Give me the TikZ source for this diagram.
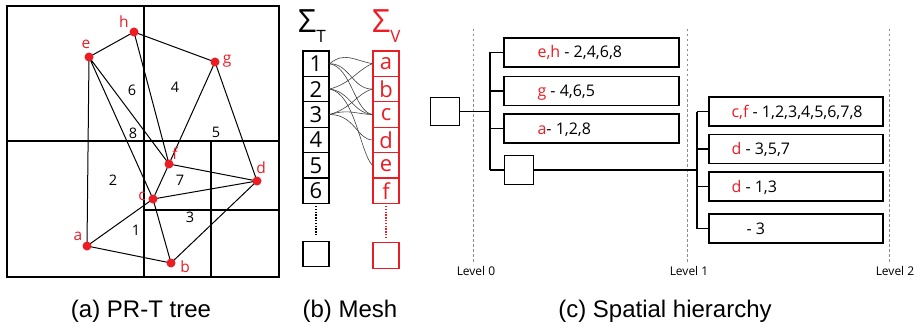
\documentclass[tikz,border=0pt]{standalone}
\usepackage{fontspec}
\setmainfont{Open Sans}
\newfontfamily\capfont{Liberation Sans}
\newfontfamily\sigfont{Open Sans}
\definecolor{myred}{RGB}{235,28,36}
\begin{document}
\begin{tikzpicture}[x=1pt,y=-1pt,
  gridln/.style={line width=1.5pt},
  edge/.style={line width=1pt},
  vdot/.style={circle, fill=myred, inner sep=0pt, minimum size=9pt},
  vlab/.style={text=myred, font=\fontsize{15.5}{15.5}\selectfont, inner sep=0pt},
  tnum/.style={font=\fontsize{14.5}{14.5}\selectfont, inner sep=0pt},
  mbox/.style={draw, line width=1.2pt, minimum width=26pt, minimum height=25.4pt, inner sep=0pt, font=\fontsize{22}{22}\selectfont},
  rbox/.style={mbox, draw=myred, text=myred},
  hbox/.style={draw, line width=1.3pt, minimum width=175pt, minimum height=29pt, inner sep=0pt},
  sbox/.style={draw, line width=1.3pt, minimum width=29pt, minimum height=28.5pt, inner sep=0pt},
  blab/.style={anchor=base west, inner sep=0pt, font=\fontsize{16}{16}\selectfont},
  lev/.style={black!45, line width=1pt, dash pattern=on 2.5pt off 2.5pt},
  levlab/.style={font=\fontsize{12}{12}\selectfont, inner sep=0pt},
  captext/.style={font=\capfont\fontsize{24}{24}\selectfont, anchor=base, inner sep=0pt},
  curve/.style={line width=0.6pt, black!75},
  dotln/.style={line width=1.6pt, dash pattern=on 1.4pt off 1.4pt},
  treeln/.style={line width=1.3pt}
]
\useasboundingbox (0,0) rectangle (921,329);

% ---------- (a) PR-T tree ----------
\draw[gridln] (7,6) rectangle (279,277);
\draw[gridln] (144,6) -- (144,277);
\draw[gridln] (7,141) -- (279,141);
\draw[gridln] (211,141) -- (211,277);
\draw[gridln] (144,210) -- (279,210);

\coordinate (h) at (134,32);
\coordinate (e) at (89,57);
\coordinate (g) at (215,62);
\coordinate (f) at (169,164);
\coordinate (d) at (257,181);
\coordinate (c) at (153,199);
\coordinate (a) at (87,246);
\coordinate (b) at (171,263);

\draw[edge] (h) -- (e) (h) -- (g) (h) -- (f) (e) -- (a) (e) -- (f) (e) -- (c)
  (g) -- (f) (g) -- (d) (f) -- (d) (f) -- (c) (c) -- (d) (c) -- (a) (c) -- (b)
  (a) -- (b) (b) -- (d);

\foreach \v in {a,b,c,d,e,f,g,h} \node[vdot] (dot\v) at (\v) {};

\node[vlab] (lh) at (124,22) {h};
\node[vlab] (le) at (86,44) {e};
\node[vlab] (lg) at (227,61) {g};
\node[vlab] (lf) at (175,154) {f};
\node[vlab] (ld) at (261,168) {d};
\node[vlab] (lc) at (142,196) {c};
\node[vlab] (la) at (78,236) {a};
\node[vlab] (lb) at (185,267) {b};

\node[tnum] (n6) at (132,90) {6};
\node[tnum] (n4) at (175,87) {4};
\node[tnum] (n8) at (133,133) {8};
\node[tnum] (n5) at (216,132) {5};
\node[tnum] (n2) at (113,180) {2};
\node[tnum] (n7) at (180,180) {7};
\node[tnum] (n3) at (190,217) {3};
\node[tnum] (n1) at (136,230) {1};

\node[captext] (capa) at (141,317) {(a) PR-T tree};

% ---------- (b) Mesh ----------
\node[anchor=base west, inner sep=0pt] (sigT) at (298,33)
  {\sigfont\fontsize{32}{32}\selectfont Σ\raisebox{-10pt}{\fontsize{17}{17}\selectfont T}};
\node[anchor=base west, inner sep=0pt, text=myred] (sigV) at (372,33)
  {\sigfont\fontsize{32}{32}\selectfont Σ\raisebox{-10pt}{\fontsize{17}{17}\selectfont V}};

\foreach \i/\y in {1/63.7,2/89.1,3/114.5,4/139.9,5/165.3,6/190.7}
  \node[mbox] (t\i) at (316,\y) {\i};
\node[mbox] (tb) at (316,254) {};
\foreach \i/\l/\y in {1/a/63.7,2/b/89.1,3/c/114.5,4/d/139.9,5/e/165.3,6/f/190.7}
  \node[rbox] (v\i) at (386,\y) {\l};
\node[rbox] (vb) at (386,255.5) {};

\draw[dotln, shorten <=2pt, shorten >=4pt] (t6.south) -- (tb.north);
\draw[dotln, myred, shorten <=2pt, shorten >=5pt] (v6.south) -- (vb.north);

% triangle 1 -> a,b,c ; 2 -> a,c,e ; 3 -> b,c,d
\draw[curve] (t1.east) .. controls +(15,-12) and +(-20,-4) .. (v1.west);
\draw[curve] (t1.east) .. controls +(20,0) and +(-20,0) .. (v2.west);
\draw[curve] (t1.east) .. controls +(22,4) and +(-18,-3) .. (v3.west);
\draw[curve] (t2.east) .. controls +(22,-6) and +(-15,6) .. (v1.west);
\draw[curve] (t2.east) .. controls +(20,2) and +(-20,-2) .. (v3.west);
\draw[curve] (t2.east) .. controls +(25,4) and +(-12,-12) .. (v5.west);
\draw[curve] (t3.east) .. controls +(22,-6) and +(-15,4) .. (v2.west);
\draw[curve] (t3.east) .. controls +(20,-6) and +(-15,0) .. (v3.west);
\draw[curve] (t3.east) .. controls +(25,0) and +(-15,0) .. (v4.west);

\node[captext] (capb) at (350,317) {(b) Mesh};

% ---------- (c) Spatial hierarchy ----------
\draw[lev] (473,29) coordinate (l0t) -- (473,262) coordinate (l0b);
\draw[lev] (687,29) coordinate (l1t) -- (687,262) coordinate (l1b);
\draw[lev] (889,29) coordinate (l2t) -- (889,262) coordinate (l2b);
\node[levlab] (lev0) at (476,271) {Level 0};
\node[levlab] (lev1) at (689,271) {Level 1};
\node[levlab] (lev2) at (895,271) {Level 2};

\node[sbox] (r) at (445,111.5) {};
\node[hbox] (b1) at (591.5,52.5) {};
\node[hbox] (b2) at (591.5,91) {};
\node[hbox] (b3) at (591.5,128.5) {};
\node[sbox] (s) at (519,170) {};

\coordinate (j0) at (490,0);
\draw[treeln] (r.east) -- (r.east -| j0);
\draw[treeln] (b1.west -| j0) -- (s.west -| j0);
\foreach \n in {b1,b2,b3,s} \draw[treeln] (\n.west -| j0) -- (\n.west);

\node[hbox, minimum width=174pt] (c1) at (796,111.5) {};
\node[hbox, minimum width=174pt] (c2) at (796,149) {};
\node[hbox, minimum width=174pt] (c3) at (796,186.5) {};
\node[hbox, minimum width=174pt] (c4) at (796,228.5) {};

\coordinate (j1) at (697,0);
\draw[treeln] (s.east) -- (s.east -| j1);
\draw[treeln] (c1.west -| j1) -- (c4.west -| j1);
\foreach \n in {c1,c2,c3,c4} \draw[treeln] (\n.west -| j1) -- (\n.west);

\node[blab] (tb1) at ([xshift=34pt,yshift=-5.5pt]b1.west) {\textcolor{myred}{e,h} - 2,4,6,8};
\node[blab] (tb2) at ([xshift=34pt,yshift=-5.5pt]b2.west) {\textcolor{myred}{g} - 4,6,5};
\node[blab] (tb3) at ([xshift=34pt,yshift=-5.5pt]b3.west) {\textcolor{myred}{a}- 1,2,8};
\node[blab] (tc1) at ([xshift=23pt,yshift=-5.5pt]c1.west) {\textcolor{myred}{c,f} - 1,2,3,4,5,6,7,8};
\node[blab] (tc2) at ([xshift=23pt,yshift=-5.5pt]c2.west) {\textcolor{myred}{d} - 3,5,7};
\node[blab] (tc3) at ([xshift=23pt,yshift=-5.5pt]c3.west) {\textcolor{myred}{d} - 1,3};
\node[blab] (tc4) at ([xshift=38pt,yshift=-5.5pt]c4.west) {- 3};

\node[captext] (capc) at (665,317) {(c) Spatial hierarchy};
\end{tikzpicture}
\end{document}
